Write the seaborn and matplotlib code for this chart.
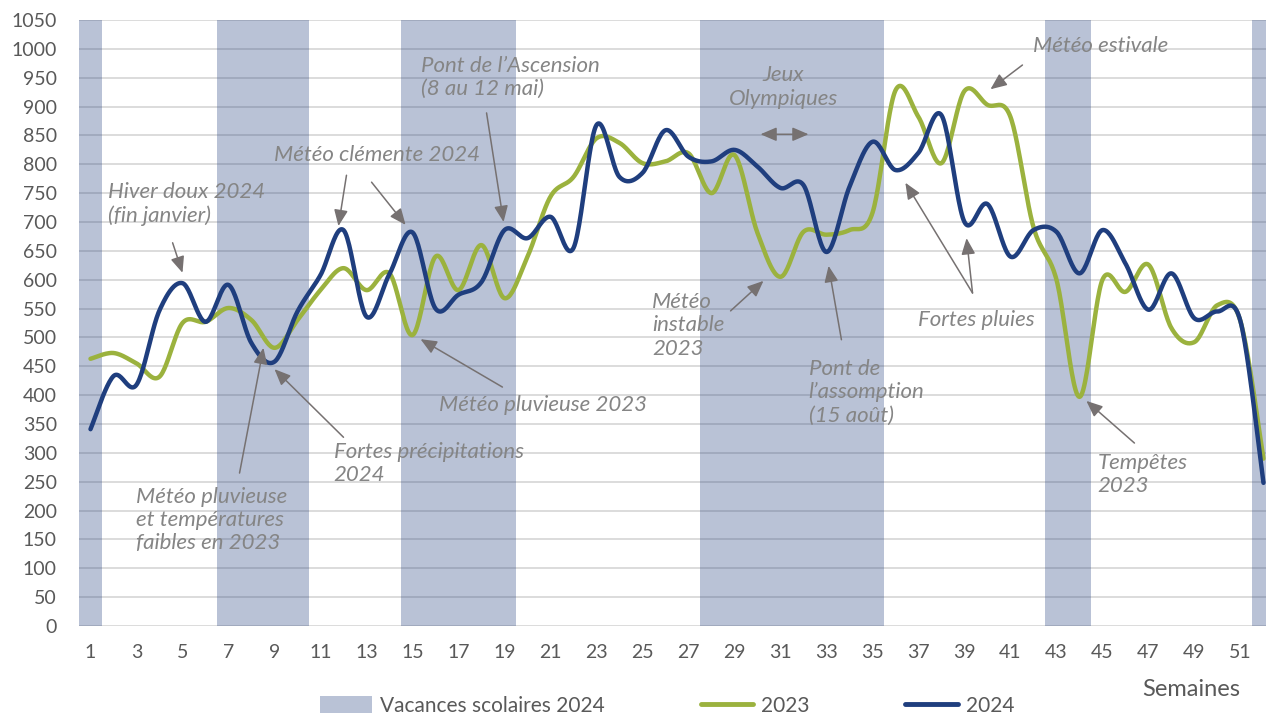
import numpy as np
import pandas as pd
import matplotlib
matplotlib.use("Agg")
import matplotlib.pyplot as plt
import seaborn as sns
from matplotlib.patches import Patch
from matplotlib.lines import Line2D

# ---------------- data ----------------
weeks = list(range(1, 53))
values_2023 = [463, 473, 455, 432, 525, 527, 551, 530, 482, 530,
               582, 620, 582, 611, 504, 640, 582, 660, 568, 640,
               744, 778, 845, 837, 802, 805, 819, 750, 816, 681,
               605, 683, 678, 686, 716, 928, 882, 802, 927, 903,
               882, 691, 600, 397, 600, 579, 626, 516, 492, 556,
               528, 290]
values_2024 = [341, 433, 418, 547, 594, 527, 591, 490, 458, 545,
               608, 686, 536, 610, 682, 550, 574, 596, 686, 672,
               709, 655, 868, 778, 785, 859, 813, 805, 825, 796,
               759, 764, 648, 761, 839, 790, 820, 885, 700, 731,
               640, 686, 683, 611, 686, 628, 548, 611, 533, 545,
               528, 248]
vacation_weeks = [1, 7, 8, 9, 10, 15, 16, 17, 18, 19,
                  28, 29, 30, 31, 32, 33, 34, 35, 43, 44, 52]
x_tick_labels = [str(w) for w in range(1, 53, 2)]
y_ticks = list(range(0, 1051, 50))
series_names = ["2023", "2024"]
legend_vacation = "Vacances scolaires 2024"
x_title = "Semaines"

GREEN = "#9BB23E"
BLUE = "#1F3E7E"
BAND = "#1F3D7C"
GRAY_TXT = "#858585"
TICK_TXT = "#595959"


def smooth(xs, ys, n=24):
    """Excel-like smoothed line (Catmull-Rom Bezier) for drawing."""
    xs = np.asarray(xs, float)
    ys = np.asarray(ys, float)
    P = np.column_stack([xs, ys])
    P = np.vstack([P[0], P, P[-1]])
    out = []
    t = np.linspace(0, 1, n, endpoint=False)[:, None]
    for i in range(1, len(P) - 2):
        p0, p1, p2, p3 = P[i - 1], P[i], P[i + 1], P[i + 2]
        c1 = p1 + (p2 - p0) / 6
        c2 = p2 - (p3 - p1) / 6
        seg = ((1 - t) ** 3) * p1 + 3 * ((1 - t) ** 2) * t * c1 + 3 * (1 - t) * t ** 2 * c2 + t ** 3 * p2
        out.append(seg)
    out.append(P[-2][None, :])
    out = np.vstack(out)
    return out[:, 0], out[:, 1]


sns.set_theme(style="white")
plt.rcParams["font.family"] = ["Lato", "DejaVu Sans"]

fig = plt.figure(figsize=(12.66, 7.15), dpi=100)
ax = fig.add_axes([79 / 1266, 89 / 715, 1187 / 1266, 606 / 715])

# vacation bands
ax.bar(vacation_weeks, [1050] * len(vacation_weeks), width=1.0,
       color=BAND, alpha=0.31, linewidth=0, zorder=2)

# gridlines
for yv in y_ticks:
    ax.axhline(yv, color="#D9D9D9", lw=1.3, zorder=1)

# smoothed lines
df_rows = []
for name, vals in zip(series_names, [values_2023, values_2024]):
    sx, sy = smooth(weeks, vals)
    df_rows.append(pd.DataFrame({"week": sx, "value": sy, "series": name}))
df = pd.concat(df_rows, ignore_index=True)
sns.lineplot(data=df, x="week", y="value", hue="series", palette={"2023": GREEN, "2024": BLUE},
             sort=False, estimator=None, units="series", lw=3.2, ax=ax, legend=False, zorder=4)
for ln in ax.lines[-2:]:
    ln.set_solid_capstyle("round")
    ln.set_zorder(4)

ax.set_xlim(0.5, 52.11)
ax.set_ylim(0, 1050)
ax.set_xticks(list(range(1, 53, 2)))
ax.set_xticklabels(x_tick_labels)
ax.set_yticks(y_ticks)
ax.set_yticklabels([str(v) for v in y_ticks])
ax.tick_params(axis="x", length=0, pad=13, labelsize=14, labelcolor=TICK_TXT)
ax.tick_params(axis="y", length=0, pad=16, labelsize=14, labelcolor=TICK_TXT)
ax.set_xlabel("")
ax.set_ylabel("")
for s in ax.spines.values():
    s.set_visible(False)

# annotations
tkw = dict(color=GRAY_TXT, fontsize=16, fontstyle="italic", fontweight="normal",
           linespacing=1.2, zorder=6)
texts = [
    (1.74, 731, "Hiver doux 2024\n(fin janvier)", "left"),
    (8.96, 816, "Météo clémente 2024", "left"),
    (15.35, 951, "Pont de l\u2019Ascension\n(8 au 12 mai)", "left"),
    (31.13, 934, "Jeux\nOlympiques", "center"),
    (41.96, 1005, "Météo estivale", "left"),
    (36.96, 530, "Fortes pluies", "left"),
    (25.43, 521, "Météo\ninstable\n2023", "left"),
    (32.22, 405, "Pont de\nl\u2019assomption\n(15 août)", "left"),
    (44.78, 262, "Tempêtes\n2023", "left"),
    (16.17, 383, "Météo pluvieuse 2023", "left"),
    (11.57, 282, "Fortes précipitations\n2024", "left"),
    (3.0, 184, "Météo pluvieuse\net températures\nfaibles en 2023", "left"),
]
for x, y, s, ha in texts:
    ax.text(x, y, s, ha=ha, va="center", **tkw)

arrows = [
    ((4.57, 664), (5.0, 612)),
    ((12.13, 781), (11.78, 693)),
    ((13.22, 769), (14.70, 695)),
    ((18.22, 889), (18.96, 700)),
    ((41.52, 972), (40.13, 930)),
    ((39.35, 577), (36.43, 768)),
    ((39.35, 577), (39.09, 672)),
    ((28.83, 546), (30.26, 598)),
    ((33.65, 496), (33.09, 624)),
    ((46.39, 317), (44.30, 390)),
    ((18.91, 414), (15.35, 497)),
    ((12.0, 327), (9.0, 445)),
    ((7.48, 265), (8.52, 482)),
]
akw = dict(arrowstyle="-|>,head_length=0.7,head_width=0.3", color="#767171", lw=1.1,
           shrinkA=0, shrinkB=0, mutation_scale=14)
for tail, head in arrows:
    ax.annotate("", xy=head, xytext=tail, arrowprops=akw, zorder=6)
# double arrow (Jeux Olympiques)
ax.annotate("", xy=(32.22, 852), xytext=(30.13, 852),
            arrowprops=dict(arrowstyle="<|-|>,head_length=0.7,head_width=0.3", color="#767171",
                            lw=1.1, shrinkA=0, shrinkB=0, mutation_scale=14), zorder=6)

# x title
fig.text(1191 / 1266, 1 - 690 / 715, x_title, ha="center", va="center", fontsize=17, color=TICK_TXT)

# legend
handles = [Patch(facecolor=BAND, alpha=0.31, edgecolor="none"),
           Line2D([0], [0], color=GREEN, lw=3.5, solid_capstyle="round"),
           Line2D([0], [0], color=BLUE, lw=3.5, solid_capstyle="round")]
fig.legend(handles, [legend_vacation] + series_names, loc="center", ncol=3,
           bbox_to_anchor=(667 / 1266, 1 - 706 / 715), frameon=False, fontsize=15,
           handlelength=2.5, handleheight=0.9, columnspacing=4.6, handletextpad=0.4,
           labelcolor=TICK_TXT)

fig.savefig("out.png", dpi=100)
